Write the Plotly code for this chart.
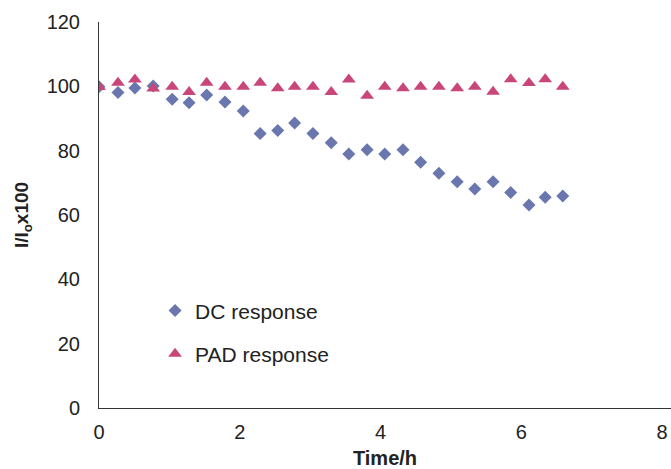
import plotly.graph_objects as go

time_h = [0.0, 0.27, 0.51, 0.77, 1.04, 1.28, 1.53, 1.79, 2.05, 2.29, 2.54, 2.78, 3.04,
          3.30, 3.55, 3.81, 4.06, 4.32, 4.57, 4.83, 5.09, 5.34, 5.60, 5.85, 6.11, 6.34, 6.59]
dc_response = [99.9, 98.1, 99.5, 100.1, 96.0, 94.9, 97.3, 95.1, 92.3, 85.3, 86.3, 88.6, 85.3,
               82.5, 79.0, 80.3, 79.0, 80.3, 76.4, 73.0, 70.3, 68.1, 70.3, 67.0, 63.1, 65.5, 65.9]
pad_response = [99.8, 101.1, 102.1, 99.3, 99.9, 98.2, 101.1, 99.9, 99.9, 101.1, 99.4, 99.9, 99.9,
                98.2, 102.1, 97.1, 99.9, 99.4, 99.9, 99.9, 99.4, 99.9, 98.3, 102.2, 101.0, 102.2, 99.9]
x_ticks = [0, 2, 4, 6, 8]
y_ticks = [0, 20, 40, 60, 80, 100, 120]

FONT = "Liberation Sans, Arial, sans-serif"

fig = go.Figure()
fig.add_trace(go.Scatter(
    x=time_h, y=dc_response, mode="markers", name="DC response", legendgroup="dc",
    marker=dict(symbol="diamond", size=10, color="#6A77AF", line=dict(width=0)),
))
fig.add_trace(go.Scatter(
    x=time_h, y=pad_response, mode="markers", name="PAD response", legendgroup="pad",
    marker=dict(symbol="triangle-up", size=12, color="#C8467A", line=dict(width=0)),
))

fig.update_layout(
    width=671, height=469,
    margin=dict(l=99, r=0, t=22, b=61),
    paper_bgcolor="white", plot_bgcolor="white",
    font=dict(family=FONT, size=20, color="#222222"),
    showlegend=True,
    legend=dict(
        x=0.098, y=0.305, xanchor="left", yanchor="top",
        bgcolor="rgba(0,0,0,0)", font=dict(size=21, color="#222222"),
        tracegroupgap=13, traceorder="grouped",
    ),
    xaxis=dict(
        range=[0, 8.128], tickvals=x_ticks, ticktext=[str(v) for v in x_ticks],
        showgrid=False, zeroline=False, showline=True, linecolor="#333333", linewidth=1,
        ticks="", ticklabelstandoff=6,
        title=dict(text="<b>Time/h</b>", font=dict(size=20, color="#222222"), standoff=8),
    ),
    yaxis=dict(
        range=[0, 120], tickvals=y_ticks, ticktext=[str(v) for v in y_ticks],
        showgrid=False, zeroline=False, showline=True, linecolor="#333333", linewidth=1,
        ticks="", ticklabelstandoff=14,
        title=dict(text="<b>I/I<sub>o</sub>x100</b>", font=dict(size=19, color="#222222"), standoff=12),
    ),
)

fig.write_html("out.html")
